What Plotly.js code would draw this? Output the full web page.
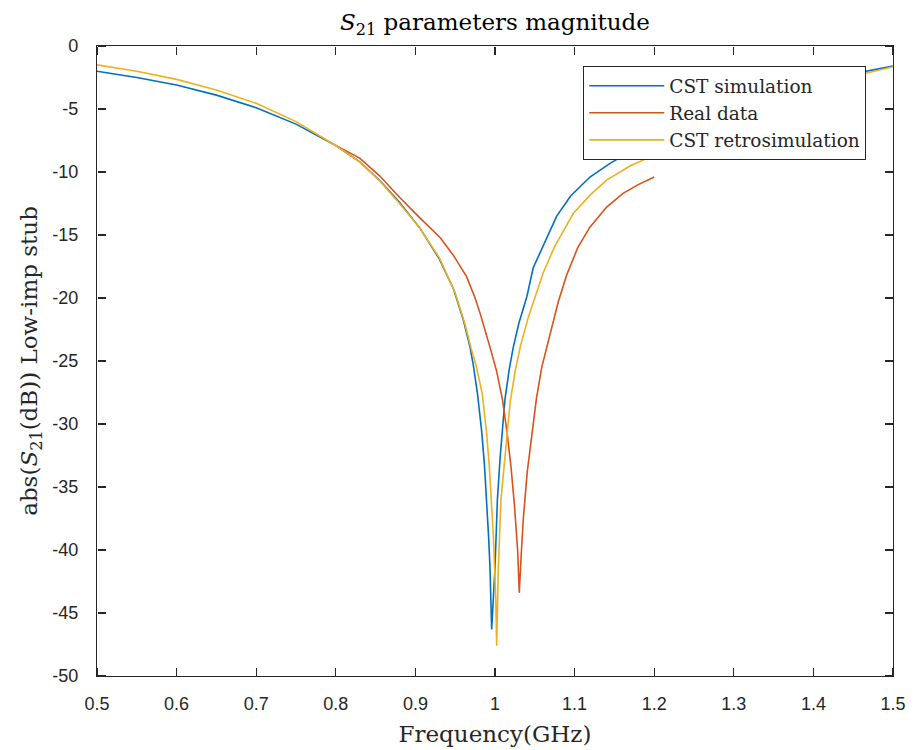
<!DOCTYPE html>
<html>
<head>
<meta charset="utf-8">
<script src="https://cdn.plot.ly/plotly-3.0.1.min.js"></script>
<style>html,body{margin:0;padding:0;background:#fff;}#chart{width:914px;height:750px;}</style>
</head>
<body>
<div id="chart"></div>
<script>
// CST simulation
const simFreq = [0.50,0.55,0.60,0.65,0.70,0.75,0.80,0.83,0.855,0.88,0.905,0.93,0.948,0.96,0.9686,0.9727,0.978,0.9833,0.9867,0.9896,0.9920,0.9937,0.9950,0.9958,1.0000,1.0030,1.0063,1.0126,1.018,1.023,1.030,1.040,1.048,1.060,1.0775,1.095,1.1193,1.145,1.1696,1.20,1.25,1.30,1.35,1.40,1.45,1.475,1.50];
const simDb   = [-2.0,-2.5,-3.1,-3.9,-4.9,-6.2,-7.9,-9.2,-10.65,-12.4,-14.4,-16.9,-19.3,-21.7,-23.9,-25.3,-27.6,-30.6,-33.2,-36.1,-39.0,-41.4,-43.8,-46.3,-41.4,-36.0,-32.8,-28.0,-25.6,-23.9,-22.0,-19.9,-17.6,-15.9,-13.5,-11.9,-10.4,-9.3,-8.4,-7.5,-5.9,-4.6,-3.6,-2.8,-2.2,-1.9,-1.6];
// Real data
const realFreq = [0.80,0.83,0.855,0.88,0.905,0.918,0.931,0.9476,0.9643,0.975,0.9812,0.9937,1.0020,1.0095,1.0150,1.0201,1.0245,1.0285,1.0305,1.0330,1.0357,1.0405,1.0461,1.052,1.0587,1.0691,1.0795,1.0899,1.104,1.119,1.14,1.1608,1.18,1.20];
const realDb   = [-7.9,-8.9,-10.3,-12.0,-13.6,-14.4,-15.2,-16.6,-18.3,-20.0,-21.2,-23.9,-25.8,-28.1,-30.6,-33.4,-36.5,-40.1,-43.4,-40.3,-37.4,-33.8,-30.8,-28.0,-25.5,-23.0,-20.3,-18.2,-16.0,-14.4,-12.8,-11.7,-11.0,-10.4];
// CST retrosimulation
const retroFreq = [0.50,0.55,0.60,0.65,0.70,0.75,0.80,0.83,0.855,0.88,0.905,0.93,0.95,0.962,0.970,0.976,0.984,0.9896,0.993,0.9958,0.998,0.9995,1.001,1.0021,1.0042,1.0075,1.0126,1.019,1.025,1.032,1.042,1.0523,1.0606,1.075,1.0983,1.12,1.1402,1.17,1.1988,1.25,1.30,1.35,1.40,1.45,1.475,1.50];
const retroDb   = [-1.5,-2.0,-2.65,-3.5,-4.55,-6.0,-7.9,-9.2,-10.7,-12.5,-14.4,-16.8,-19.6,-22.0,-24.0,-25.3,-27.6,-30.8,-33.5,-36.1,-39.0,-41.4,-44.0,-47.6,-41.4,-36.0,-32.8,-28.3,-25.9,-23.8,-21.5,-19.6,-18.0,-15.9,-13.3,-11.8,-10.65,-9.5,-8.7,-7.0,-5.4,-4.2,-3.2,-2.4,-2.0,-1.65];

const seriesNames = ['CST simulation','Real data','CST retrosimulation'];
const seriesColors = ['#0072BD','#D95319','#EDB120'];

const xTickVals = [0.5,0.6,0.7,0.8,0.9,1.0,1.1,1.2,1.3,1.4,1.5];
const xTickText = ['0.5','0.6','0.7','0.8','0.9','1','1.1','1.2','1.3','1.4','1.5'];
const yTickVals = [0,-5,-10,-15,-20,-25,-30,-35,-40,-45,-50];
const yTickText = ['0','-5','-10','-15','-20','-25','-30','-35','-40','-45','-50'];

const xs = [simFreq, realFreq, retroFreq];
const ys = [simDb, realDb, retroDb];
const traces = xs.map((x,i)=>({
  x: x, y: ys[i], type:'scatter', mode:'lines', name: seriesNames[i],
  line:{color: seriesColors[i], width:1.6}
}));
// empty traces that carry the inward tick-mark axes
traces.push({x:[], y:[], xaxis:'x2', yaxis:'y2', type:'scatter', mode:'lines', showlegend:false, hoverinfo:'skip'});
traces.push({x:[], y:[], xaxis:'x3', yaxis:'y3', type:'scatter', mode:'lines', showlegend:false, hoverinfo:'skip'});

const ink = '#262626';
const labelFont = {family:'Liberation Sans, Arial, sans-serif', size:18, color:ink};
const serifFont = {family:'DejaVu Serif, serif', size:23, color:ink};

function tickAxis(base, extra){
  return Object.assign({range: base === 'x' ? [0.5,1.5] : [-50,0], tickmode:'array',
    tickvals: base === 'x' ? xTickVals : yTickVals, showticklabels:false, showgrid:false, zeroline:false,
    showline:false, ticks:'outside', ticklen:8, tickwidth:1.2, tickcolor:ink, overlaying: base, anchor:'free'}, extra);
}

const layout = {
  width:914, height:750,
  margin:{l:97, r:21, t:46, b:74},
  paper_bgcolor:'#fff', plot_bgcolor:'#fff',
  showlegend:true,
  title:{text:'<i>S</i><sub>21</sub> parameters magnitude', font:{family:'DejaVu Serif, serif', size:23, color:'#000'},
         x:0.5, xref:'paper', y:0.971, yref:'container', yanchor:'middle'},
  xaxis:{range:[0.5,1.5], tickmode:'array', tickvals:xTickVals, ticktext:xTickText, showgrid:false, zeroline:false,
    showline:true, linecolor:ink, linewidth:1.2, mirror:true, ticks:'', tickfont:labelFont, ticklabelstandoff:11,
    title:{text:'Frequency(GHz)', font:serifFont, standoff:13}},
  yaxis:{range:[-50,0], tickmode:'array', tickvals:yTickVals, ticktext:yTickText, showgrid:false, zeroline:false,
    showline:true, linecolor:ink, linewidth:1.2, mirror:true, ticks:'', tickfont:labelFont, ticklabelstandoff:14,
    title:{text:'abs(<i>S</i><sub>21</sub>(dB)) Low-imp stub', font:serifFont, standoff:8}},
  xaxis2: tickAxis('x', {side:'top', position:0}),
  yaxis2: tickAxis('y', {side:'right', position:0}),
  xaxis3: tickAxis('x', {side:'bottom', position:1}),
  yaxis3: tickAxis('y', {side:'left', position:1}),
  legend:{x:0.6106, y:0.9682, xanchor:'left', yanchor:'top', bgcolor:'#fff', bordercolor:ink, borderwidth:1.2,
    font:{family:'DejaVu Serif, serif', size:18.5, color:ink}, itemwidth:75, tracegroupgap:0}
};

Plotly.newPlot('chart', traces, layout, {displayModeBar:false, staticPlot:true});
</script>
</body>
</html>
